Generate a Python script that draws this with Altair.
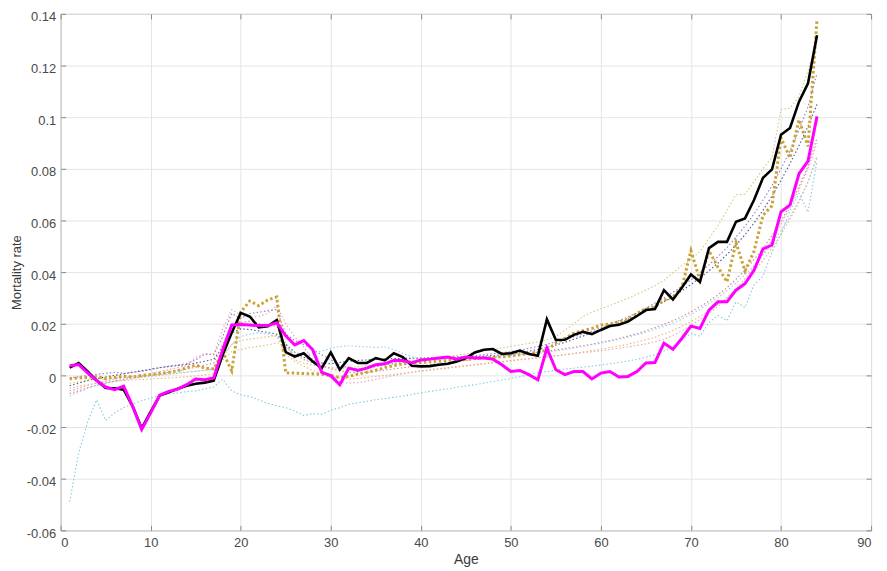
import altair as alt
import pandas as pd

ages = list(range(1, 85))

black = [
    0.0030, 0.0048, 0.0015, -0.0020, -0.0049, -0.0050, -0.0055, -0.0120, -0.0205, -0.0140,
    -0.0078, -0.0065, -0.0052, -0.0040, -0.0032, -0.0028, -0.0020, 0.0080, 0.0165, 0.0242,
    0.0228, 0.0186, 0.0190, 0.0214, 0.0090, 0.0073, 0.0086, 0.0054, 0.0028, 0.0089,
    0.0022, 0.0067, 0.0048, 0.0048, 0.0067, 0.0058, 0.0086, 0.0071, 0.0037, 0.0035,
    0.0036, 0.0041, 0.0045, 0.0054, 0.0067, 0.0089, 0.0099, 0.0102, 0.0083, 0.0086,
    0.0096, 0.0083, 0.0076, 0.0217, 0.0137, 0.0138, 0.0157, 0.0169, 0.0160, 0.0176,
    0.0191, 0.0196, 0.0208, 0.0230, 0.0253, 0.0257, 0.0330, 0.0294, 0.0340, 0.0391,
    0.0362, 0.0493, 0.0517, 0.0517, 0.0595, 0.0608, 0.0679, 0.0765, 0.0798, 0.0932,
    0.0958, 0.1060, 0.1131, 0.1317,
]

magenta = [
    0.0037, 0.0042, 0.0010, -0.0020, -0.0045, -0.0055, -0.0042, -0.0120, -0.0209, -0.0145,
    -0.0077, -0.0062, -0.0053, -0.0036, -0.0014, -0.0017, -0.0010, 0.0099, 0.0195, 0.0197,
    0.0195, 0.0193, 0.0193, 0.0204, 0.0153, 0.0118, 0.0135, 0.0099, 0.0012, -0.0001,
    -0.0036, 0.0028, 0.0019, 0.0028, 0.0041, 0.0045, 0.0058, 0.0058, 0.0048, 0.0060,
    0.0063, 0.0067, 0.0071, 0.0063, 0.0071, 0.0067, 0.0067, 0.0063, 0.0041, 0.0015,
    0.0019, 0.0003, -0.0017, 0.0105, 0.0022, 0.0003, 0.0015, 0.0015, -0.0014, 0.0009,
    0.0015, -0.0006, -0.0004, 0.0015, 0.0048, 0.0050, 0.0125, 0.0101, 0.0144, 0.0191,
    0.0182, 0.0253, 0.0285, 0.0285, 0.0330, 0.0355, 0.0407, 0.0490, 0.0505, 0.0633,
    0.0660, 0.0781, 0.0830, 0.1003,
]

gold = [
    -0.0013, -0.0010, -0.0008, -0.0005, -0.0012, -0.0008, -0.0003, -0.0006, 0.0000, 0.0003,
    0.0008, 0.0012, 0.0018, 0.0030, 0.0040, 0.0028, 0.0025, 0.0090, 0.0018, 0.0245,
    0.0288, 0.0270, 0.0292, 0.0304, 0.0010, 0.0009, 0.0007, 0.0006, 0.0004, 0.0000,
    -0.0008, -0.0004, 0.0005, 0.0012, 0.0020, 0.0030, 0.0038, 0.0045, 0.0048, 0.0050,
    0.0053, 0.0055, 0.0058, 0.0060, 0.0062, 0.0065, 0.0068, 0.0070, 0.0072, 0.0075,
    0.0080, 0.0085, 0.0090, 0.0098, 0.0125, 0.0144, 0.0163, 0.0173, 0.0182, 0.0195,
    0.0199, 0.0208, 0.0217, 0.0240, 0.0259, 0.0265, 0.0291, 0.0304, 0.0342, 0.0483,
    0.0368, 0.0483, 0.0419, 0.0362, 0.0515, 0.0405, 0.0480, 0.0620, 0.0657, 0.0920,
    0.0842, 0.0990, 0.0887, 0.1380,
]

cyan = [
    -0.0490, -0.0300, -0.0180, -0.0095, -0.0175, -0.0145, -0.0125, -0.0110, -0.0098, -0.0088,
    -0.0078, -0.0072, -0.0068, -0.0063, -0.0060, -0.0052, -0.0045, -0.0015, -0.0060, -0.0075,
    -0.0082, -0.0095, -0.0108, -0.0118, -0.0125, -0.0138, -0.0155, -0.0148, -0.0150, -0.0135,
    -0.0125, -0.0112, -0.0106, -0.0100, -0.0094, -0.0090, -0.0085, -0.0080, -0.0074, -0.0068,
    -0.0062, -0.0057, -0.0052, -0.0046, -0.0041, -0.0036, -0.0030, -0.0024, -0.0018, -0.0012,
    -0.0005, 0.0002, 0.0010, 0.0015, 0.0020, 0.0024, 0.0028, 0.0032, 0.0036, 0.0040,
    0.0045, 0.0050, 0.0056, 0.0062, 0.0070, 0.0080, 0.0094, 0.0112, 0.0138, 0.0162,
    0.0152, 0.0205, 0.0232, 0.0212, 0.0285, 0.0262, 0.0350, 0.0385, 0.0478, 0.0548,
    0.0638, 0.0705, 0.0632, 0.0830,
]

olive = [
    -0.0030, -0.0025, -0.0018, -0.0012, -0.0015, -0.0010, -0.0006, -0.0004, -0.0002, 0.0000,
    0.0003, 0.0006, 0.0010, 0.0013, 0.0016, 0.0020, 0.0024, 0.0060, 0.0092, 0.0100,
    0.0108, 0.0112, 0.0118, 0.0125, 0.0128, 0.0060, 0.0048, 0.0040, 0.0035, 0.0030,
    0.0028, 0.0030, 0.0034, 0.0038, 0.0042, 0.0046, 0.0050, 0.0054, 0.0058, 0.0062,
    0.0066, 0.0070, 0.0074, 0.0078, 0.0083, 0.0088, 0.0094, 0.0100, 0.0106, 0.0112,
    0.0118, 0.0124, 0.0130, 0.0138, 0.0150, 0.0175, 0.0200, 0.0228, 0.0245, 0.0258,
    0.0270, 0.0285, 0.0298, 0.0315, 0.0330, 0.0348, 0.0368, 0.0398, 0.0425, 0.0448,
    0.0480, 0.0530, 0.0580, 0.0640, 0.0700, 0.0702, 0.0750, 0.0800, 0.0845, 0.1030,
    0.1035, 0.1080, 0.1180, 0.1300,
]

navy = [
    -0.0040, -0.0030, -0.0020, -0.0012, -0.0006, 0.0000, 0.0006, 0.0012, 0.0018, 0.0024,
    0.0030, 0.0034, 0.0038, 0.0042, 0.0048, 0.0055, 0.0062, 0.0110, 0.0165, 0.0180,
    0.0178, 0.0172, 0.0166, 0.0160, 0.0120, 0.0090, 0.0070, 0.0058, 0.0048, 0.0045,
    0.0050, 0.0055, 0.0058, 0.0060, 0.0062, 0.0064, 0.0065, 0.0066, 0.0066, 0.0067,
    0.0068, 0.0069, 0.0070, 0.0071, 0.0072, 0.0073, 0.0075, 0.0077, 0.0080, 0.0083,
    0.0088, 0.0094, 0.0100, 0.0108, 0.0118, 0.0128, 0.0140, 0.0152, 0.0165, 0.0178,
    0.0190, 0.0203, 0.0217, 0.0232, 0.0248, 0.0265, 0.0285, 0.0305, 0.0328, 0.0352,
    0.0378, 0.0405, 0.0435, 0.0468, 0.0505, 0.0545, 0.0590, 0.0640, 0.0695, 0.0755,
    0.0820, 0.0890, 0.0965, 0.1050,
]

purple = [
    -0.0010, -0.0005, 0.0000, 0.0004, 0.0008, 0.0012, 0.0008, 0.0012, 0.0016, 0.0022,
    0.0030, 0.0036, 0.0040, 0.0046, 0.0060, 0.0082, 0.0080, 0.0150, 0.0240, 0.0220,
    0.0240, 0.0245, 0.0250, 0.0255, 0.0160, 0.0135, 0.0120, 0.0100, 0.0080, 0.0060,
    0.0040, 0.0030, 0.0025, 0.0028, 0.0034, 0.0040, 0.0046, 0.0050, 0.0054, 0.0058,
    0.0062, 0.0065, 0.0068, 0.0071, 0.0074, 0.0077, 0.0080, 0.0084, 0.0088, 0.0092,
    0.0098, 0.0105, 0.0112, 0.0120, 0.0130, 0.0140, 0.0150, 0.0160, 0.0172, 0.0185,
    0.0198, 0.0212, 0.0226, 0.0242, 0.0260, 0.0280, 0.0300, 0.0322, 0.0345, 0.0370,
    0.0398, 0.0428, 0.0460, 0.0495, 0.0535, 0.0578, 0.0625, 0.0678, 0.0735, 0.0800,
    0.0870, 0.0950, 0.1040, 0.1170,
]

pink = [
    -0.0060, -0.0050, -0.0040, -0.0030, -0.0022, -0.0015, -0.0010, -0.0005, 0.0000, 0.0008,
    0.0015, 0.0022, 0.0030, 0.0038, 0.0070, 0.0085, 0.0082, 0.0180, 0.0255, 0.0235,
    0.0225, 0.0228, 0.0240, 0.0270, 0.0200, 0.0150, 0.0110, 0.0060, 0.0020, -0.0010,
    -0.0025, -0.0030, -0.0028, -0.0022, -0.0015, -0.0008, 0.0000, 0.0006, 0.0012, 0.0018,
    0.0022, 0.0026, 0.0030, 0.0034, 0.0038, 0.0042, 0.0046, 0.0050, 0.0054, 0.0058,
    0.0062, 0.0065, 0.0068, 0.0072, 0.0076, 0.0080, 0.0084, 0.0088, 0.0092, 0.0096,
    0.0100, 0.0105, 0.0110, 0.0116, 0.0122, 0.0130, 0.0140, 0.0155, 0.0172, 0.0195,
    0.0215, 0.0240, 0.0268, 0.0300, 0.0335, 0.0375, 0.0420, 0.0470, 0.0525, 0.0585,
    0.0650, 0.0720, 0.0800, 0.0900,
]

orange = [
    -0.0050, -0.0042, -0.0035, -0.0030, -0.0026, -0.0022, -0.0020, -0.0018, -0.0016, -0.0014,
    -0.0012, -0.0010, -0.0008, -0.0005, -0.0002, 0.0002, 0.0006, 0.0070, 0.0120, 0.0135,
    0.0140, 0.0145, 0.0150, 0.0155, 0.0080, 0.0055, 0.0035, 0.0020, 0.0008, -0.0002,
    -0.0010, -0.0014, -0.0012, -0.0008, -0.0004, 0.0000, 0.0004, 0.0008, 0.0012, 0.0016,
    0.0020, 0.0024, 0.0028, 0.0032, 0.0036, 0.0040, 0.0044, 0.0048, 0.0052, 0.0056,
    0.0060, 0.0064, 0.0068, 0.0072, 0.0076, 0.0081, 0.0086, 0.0091, 0.0096, 0.0102,
    0.0108, 0.0114, 0.0121, 0.0129, 0.0138, 0.0148, 0.0160, 0.0174, 0.0190, 0.0208,
    0.0228, 0.0250, 0.0275, 0.0302, 0.0332, 0.0365, 0.0402, 0.0445, 0.0492, 0.0545,
    0.0605, 0.0672, 0.0748, 0.0850,
]

rose = [
    -0.0070, -0.0060, -0.0048, -0.0038, -0.0030, -0.0022, -0.0016, -0.0010, -0.0005, 0.0000,
    0.0006, 0.0012, 0.0018, 0.0024, 0.0032, 0.0040, 0.0048, 0.0120, 0.0190, 0.0205,
    0.0210, 0.0200, 0.0195, 0.0190, 0.0110, 0.0080, 0.0062, 0.0048, 0.0036, 0.0026,
    0.0018, 0.0012, 0.0010, 0.0012, 0.0016, 0.0020, 0.0025, 0.0030, 0.0034, 0.0038,
    0.0042, 0.0046, 0.0050, 0.0054, 0.0058, 0.0062, 0.0066, 0.0070, 0.0074, 0.0078,
    0.0082, 0.0086, 0.0090, 0.0094, 0.0099, 0.0104, 0.0109, 0.0115, 0.0121, 0.0128,
    0.0135, 0.0143, 0.0152, 0.0162, 0.0173, 0.0185, 0.0198, 0.0212, 0.0228, 0.0246,
    0.0266, 0.0288, 0.0312, 0.0340, 0.0372, 0.0408, 0.0448, 0.0492, 0.0542, 0.0598,
    0.0660, 0.0730, 0.0810, 0.0920,
]

lightblue = [
    -0.0080, -0.0065, -0.0050, -0.0038, -0.0030, -0.0024, -0.0018, -0.0012, -0.0008, -0.0004,
    0.0000, 0.0004, 0.0008, 0.0012, 0.0016, 0.0020, 0.0026, 0.0080, 0.0120, 0.0150,
    0.0160, 0.0165, 0.0160, 0.0150, 0.0110, 0.0090, 0.0080, 0.0085, 0.0095, 0.0105,
    0.0112, 0.0115, 0.0112, 0.0110, 0.0108, 0.0110, 0.0100, 0.0085, 0.0072, 0.0065,
    0.0062, 0.0062, 0.0064, 0.0066, 0.0068, 0.0070, 0.0072, 0.0074, 0.0076, 0.0078,
    0.0080, 0.0082, 0.0085, 0.0090, 0.0095, 0.0100, 0.0106, 0.0112, 0.0118, 0.0125,
    0.0132, 0.0140, 0.0148, 0.0157, 0.0167, 0.0178, 0.0190, 0.0203, 0.0218, 0.0236,
    0.0256, 0.0278, 0.0302, 0.0328, 0.0358, 0.0390, 0.0426, 0.0466, 0.0510, 0.0560,
    0.0615, 0.0678, 0.0750, 0.0840,
]

thin_series = {
    "s1": cyan, "s2": olive, "s3": navy, "s4": purple,
    "s5": pink, "s6": orange, "s7": rose, "s8": lightblue,
}
thin_colors = ["#7cc7dc", "#d3c470", "#3f4c8f", "#9370c6",
               "#e79cbd", "#f0b068", "#d47c8c", "#96c8ea"]

main_series = {"black": black, "gold": gold, "magenta": magenta}

x_ticks = [0, 10, 20, 30, 40, 50, 60, 70, 80, 90]
y_ticks = [-0.06, -0.04, -0.02, 0, 0.02, 0.04, 0.06, 0.08, 0.1, 0.12, 0.14]

rows = []
for name, vals in thin_series.items():
    for a, v in zip(ages, vals):
        rows.append({"series": name, "age": a, "rate": v})
thin_df = pd.DataFrame(rows)

def series_df(name):
    return pd.DataFrame({"series": name, "age": ages, "rate": main_series[name]})

FONT = "Liberation Sans"
W, H = 816, 520
xs = alt.Scale(domain=[0, 90], nice=False, zero=False)
ys = alt.Scale(domain=[-0.06, 0.14], nice=False, zero=False)
label_expr = "datum.value == 0 ? '0' : (datum.value < 0 ? '-' : '') + format(abs(datum.value), '~g')"
TICK = "#8a8a8a"

# base layer: labels, titles, grid
thin = alt.Chart(thin_df).mark_line(strokeWidth=1.1, strokeDash=[1.5, 2.2], opacity=0.95).encode(
    x=alt.X("age:Q", scale=xs, axis=alt.Axis(
        orient="bottom", values=x_ticks, grid=True, gridColor="#e4e4e4", ticks=False, tickSize=0,
        domain=False, labelFont=FONT, labelFontSize=13, labelColor="#4a4a4a", labelPadding=6,
        title="Age", titleFont=FONT, titleFontSize=14, titleFontWeight="normal",
        titleColor="#3a3a3a", titlePadding=3, format="d")),
    y=alt.Y("rate:Q", scale=ys, axis=alt.Axis(
        orient="left", values=y_ticks, grid=True, gridColor="#e4e4e4", ticks=False, tickSize=0,
        domain=False, labelFont=FONT, labelFontSize=13, labelColor="#4a4a4a", labelPadding=5,
        labelOffset=3, labelExpr=label_expr, title="Mortality rate", titleFont=FONT,
        titleFontSize=13, titleFontWeight="normal", titleColor="#3a3a3a", titlePadding=3)),
    color=alt.Color("series:N", scale=alt.Scale(domain=list(thin_series.keys()), range=thin_colors),
                    legend=None),
    detail="series:N",
)

# gold layer carries inward ticks on the bottom and left edges
gold_l = alt.Chart(series_df("gold")).mark_line(
    color="#c9a336", strokeWidth=3, strokeDash=[2.5, 2.5]).encode(
    x=alt.X("age:Q", scale=xs, axis=alt.Axis(
        orient="top", offset=-H, values=x_ticks, labels=False, grid=False, domain=False,
        ticks=True, tickSize=5, tickColor=TICK, title=None)),
    y=alt.Y("rate:Q", scale=ys, axis=alt.Axis(
        orient="right", offset=-W, values=y_ticks, labels=False, grid=False, domain=False,
        ticks=True, tickSize=5, tickColor=TICK, title=None)),
)

# black layer carries inward ticks on the top and right edges
black_l = alt.Chart(series_df("black")).mark_line(color="#000000", strokeWidth=2.6).encode(
    x=alt.X("age:Q", scale=xs, axis=alt.Axis(
        orient="bottom", offset=-H, values=x_ticks, labels=False, grid=False, domain=False,
        ticks=True, tickSize=5, tickColor=TICK, title=None)),
    y=alt.Y("rate:Q", scale=ys, axis=alt.Axis(
        orient="left", offset=-W, values=y_ticks, labels=False, grid=False, domain=False,
        ticks=True, tickSize=5, tickColor=TICK, title=None)),
)

magenta_l = alt.Chart(series_df("magenta")).mark_line(color="#ff00ff", strokeWidth=3).encode(
    x=alt.X("age:Q", scale=xs, axis=None),
    y=alt.Y("rate:Q", scale=ys, axis=None),
)

chart = alt.layer(thin, gold_l, black_l, magenta_l).resolve_axis(
    x="independent", y="independent"
).properties(
    width=W, height=H,
    autosize=alt.AutoSizeParams(type="none"),
    padding={"left": 53, "top": 4, "right": 8, "bottom": 36},
    background="white",
).configure_view(stroke="#8c8c8c", strokeWidth=1)

chart.save("out.html", embed_options={"renderer": "svg", "actions": False})
